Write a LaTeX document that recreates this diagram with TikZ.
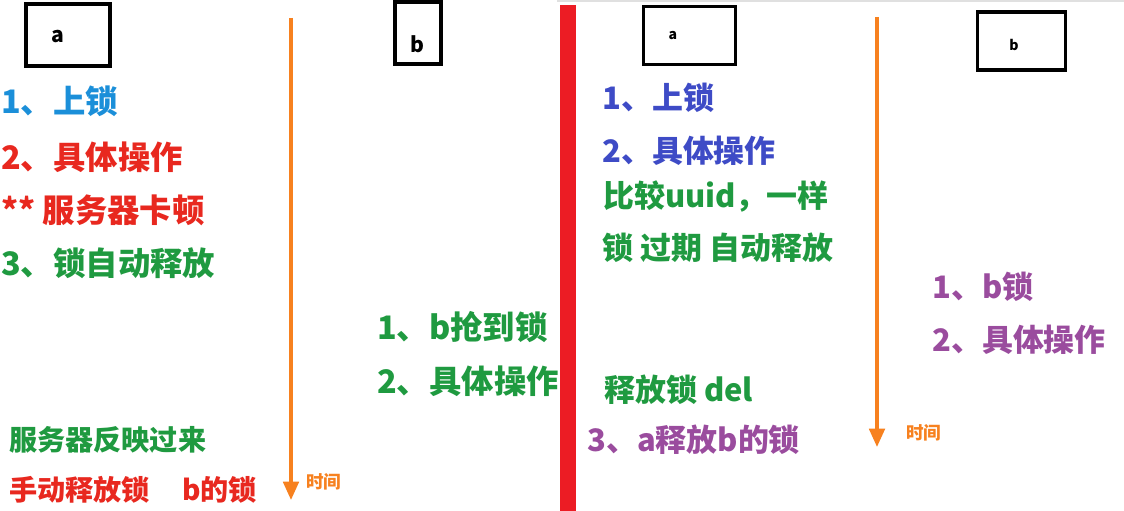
\documentclass[tikz,border=0pt]{standalone}
\usepackage{fontspec}
\newfontfamily\cjk{Noto Sans CJK SC}
\usetikzlibrary{arrows.meta,positioning}

\definecolor{stepblue}{HTML}{1B8FD9}
\definecolor{stepred}{HTML}{E8281F}
\definecolor{stepgreen}{HTML}{1F9A40}
\definecolor{stepindigo}{HTML}{3E4BC6}
\definecolor{steppurple}{HTML}{9A4C9E}
\definecolor{timeorange}{HTML}{F7811F}
\definecolor{barred}{HTML}{EC1C24}

\begin{document}
\begin{tikzpicture}[x=0.025cm, y=-0.025cm,
        actor/.style={draw, line width=2.6pt, minimum width=2.1cm, minimum height=1.55cm, inner sep=0pt},
        actorname/.style={font=\cjk\bfseries\fontsize{15}{18}\selectfont, inner sep=0pt},
        note/.style={anchor=west, inner sep=0pt, font=\cjk\bfseries\fontsize{22}{26}\selectfont},
        bignote/.style={note, font=\cjk\bfseries\fontsize{23}{27}\selectfont},
        smallnote/.style={note, font=\cjk\bfseries\fontsize{20}{24}\selectfont},
        timeline/.style={draw=timeorange, line width=2.4pt, -{Triangle[length=13pt, width=11pt]}},
        timelabel/.style={anchor=west, inner sep=0pt, text=timeorange, font=\cjk\bfseries\fontsize{12.5}{15}\selectfont}]

    \useasboundingbox[fill=white] (0,0) rectangle (1124,511);

    % left half: a holds the lock, server stalls
    \begin{scope}
        \clip (0,0) rectangle (557,511);
        \node[actor] (boxa) at (68,35) {};
        \node[actorname] (namea) at (58,37) {a};
        \node[actor, minimum width=1.15cm, minimum height=1.55cm] (boxb) at (418,33) {};
        \node[actorname] (nameb) at (417,44) {b};

        \node[bignote, text=stepblue] (lock) at (1,101) {1、上锁};
        \node[bignote, text=stepred] (work) at (1,157) {2、具体操作};
        \node[bignote, text=stepred] (stall) at (1,210) {** 服务器卡顿};
        \node[bignote, text=stepgreen] (expire) at (1,263) {3、锁自动释放};

        \node[bignote, text=stepgreen] (bgrab) at (377,327) {1、b抢到锁};
        \node[bignote, text=stepgreen] (bwork) at (377,381) {2、具体操作};

        \node[smallnote, text=stepgreen] (back) at (9,440) {服务器反映过来};
        \node[smallnote, text=stepred] (release) at (9,490) {手动释放锁\hspace{1.15em}b的锁};

        \coordinate (tla) at (291,18);
        \coordinate (tlb) at (291,500);
        \draw[timeline] (tla) -- (tlb);
        \node[timelabel] (timeleft) at (306,482) {时间};
    \end{scope}

    % right half: compare uuid before deleting
    \fill[black!12] (557,0) rectangle (1124,2);
    \fill[barred] (560,5) rectangle (576,511);

    \node[actor, minimum width=2.3cm, minimum height=1.45cm, line width=2.2pt] (boxa2) at (689.5,35.5) {};
    \node[actorname, font=\cjk\bfseries\fontsize{10}{12}\selectfont] (namea2) at (673,36) {a};
    \node[actor, minimum width=2.2cm, minimum height=1.45cm, line width=2.2pt] (boxb2) at (1021.5,41) {};
    \node[actorname, font=\cjk\bfseries\fontsize{10}{12}\selectfont] (nameb2) at (1014,45) {b};

    \node[note, text=stepindigo] (lock2) at (602,98) {1、上锁};
    \node[note, text=stepindigo] (work2) at (602,151) {2、具体操作};
    \node[note, text=stepgreen] (check) at (603,197) {比较uuid，一样};
    \node[note, text=stepgreen] (expire2) at (602,248) {锁 过期 自动释放};
    \node[note, text=stepgreen] (del) at (604,390) {释放锁 del};
    \node[note, text=steppurple] (wrong) at (587,440) {3、a释放b的锁};

    \node[note, text=steppurple] (block) at (932,287) {1、b锁};
    \node[note, text=steppurple] (bwork2) at (932,340) {2、具体操作};

    \coordinate (tra) at (877,17);
    \coordinate (trb) at (877,447);
    \draw[timeline] (tra) -- (trb);
    \node[timelabel] (timeright) at (906,433) {时间};
\end{tikzpicture}
\end{document}
